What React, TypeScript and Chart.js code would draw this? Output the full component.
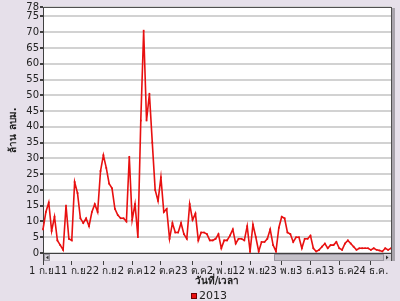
import React, { useEffect, useRef } from "react";
import { Chart, registerables } from "chart.js";

Chart.register(...registerables);

const months = ["ก.ย.", "ต.ค.", "พ.ย.", "ธ.ค."];
const monthDays = [30, 31, 30, 31];
const tickLabels = [
  "1 ก.ย.", "11 ก.ย.", "22 ก.ย.", "2 ต.ค.", "12 ต.ค.", "23 ต.ค.",
  "2 พ.ย.", "12 พ.ย.", "23 พ.ย.", "3 ธ.ค.", "13 ธ.ค.", "24 ธ.ค.",
];
const yTicks = [0, 5, 10, 15, 20, 25, 30, 35, 40, 45, 50, 55, 60, 65, 70, 75, 78];
const seriesName = "2013";
const values2013 = [
  7.5, 13, 16, 7, 11.5, 4, 2.5, 1, 15, 4.5,
  4, 22.5, 19, 11, 9.5, 11, 8.5, 13, 15.5, 13,
  26, 31, 27, 22, 20.5, 14, 12, 11, 11, 10,
  30.5, 10.5, 15.5, 5, 42, 70.5, 42, 50.5, 35, 20,
  16.5, 24, 13, 14, 4.5, 9.5, 6.5, 6.5, 9.5, 6,
  4.5, 15.5, 10.5, 12.5, 4, 6.5, 6.5, 6, 4, 4,
  4.5, 6, 1.5, 4, 4, 5.5, 7.5, 3, 4.5, 4.5,
  4, 8.5, 0.5, 9, 5, 0.5, 3.5, 3.5, 4.5, 7.5,
  2.5, 0.5, 8, 11.5, 11, 6.5, 6, 3.5, 5, 5,
  1.5, 4.5, 4.5, 5.5, 1.5, 0.5, 1, 2, 3, 1.5,
  2.5, 2.5, 3.5, 1.5, 1, 3, 4, 3, 2, 1,
  1.5, 1.5, 1.5, 1.5, 1, 1.5, 1, 0.8, 0.5, 1.5,
  1, 1.5,
];
const yTitle = "ล้าน ลบม.";
const xTitle = "วันที่/เวลา";

const categories: string[] = [];
months.forEach((m, i) => {
  for (let d = 1; d <= monthDays[i]; d++) categories.push(d + " " + m);
});

const FONT = "Tahoma, 'DejaVu Sans', Verdana, sans-serif";
const BG = "#e6e0ea";
const LINE = "rgb(232,16,16)";

const decor = {
  id: "decor",
  beforeDraw(chart: any) {
    const { ctx, chartArea: a, width, height } = chart;
    ctx.save();
    ctx.fillStyle = BG;
    ctx.fillRect(0, 0, width, height);
    ctx.fillStyle = "#ffffff";
    ctx.fillRect(a.left, a.top, a.right - a.left, a.bottom - a.top);
    ctx.restore();
  },
  afterDraw(chart: any) {
    const { ctx, chartArea: a } = chart;
    ctx.save();
    // top border
    ctx.strokeStyle = "#505050";
    ctx.lineWidth = 1;
    ctx.beginPath();
    ctx.moveTo(a.left, a.top + 0.5);
    ctx.lineTo(a.right, a.top + 0.5);
    ctx.stroke();
    // right frame
    ctx.beginPath();
    ctx.moveTo(a.right + 0.5, a.top);
    ctx.lineTo(a.right + 0.5, a.bottom + 8);
    ctx.stroke();
    ctx.fillStyle = "#a8a4ac";
    ctx.fillRect(a.right + 1, a.top + 1, 3, a.bottom - a.top + 7);
    // scrollbar track
    const sy = a.bottom + 1;
    const sh = 7;
    ctx.fillStyle = "#efebf1";
    ctx.fillRect(a.left + 1, sy, a.right - a.left - 1, sh);
    // left arrow
    ctx.fillStyle = "#d4d0d8";
    ctx.fillRect(a.left + 1, sy, 6, sh);
    ctx.strokeStyle = "#9a96a0";
    ctx.strokeRect(a.left + 1.5, sy + 0.5, 5, sh - 1);
    ctx.fillStyle = "#303030";
    ctx.beginPath();
    ctx.moveTo(a.left + 3, sy + 3.5);
    ctx.lineTo(a.left + 5.5, sy + 1.5);
    ctx.lineTo(a.left + 5.5, sy + 5.5);
    ctx.closePath();
    ctx.fill();
    // thumb
    const tx0 = 274;
    const tx1 = a.right - 7;
    ctx.fillStyle = "#c4c0c8";
    ctx.fillRect(tx0, sy, tx1 - tx0, sh);
    ctx.strokeStyle = "#9a96a0";
    ctx.strokeRect(tx0 + 0.5, sy + 0.5, tx1 - tx0 - 1, sh - 1);
    // right arrow
    ctx.fillStyle = "#d4d0d8";
    ctx.fillRect(tx1, sy, a.right - tx1, sh);
    ctx.fillStyle = "#303030";
    ctx.beginPath();
    ctx.moveTo(tx1 + 4.5, sy + 3.5);
    ctx.lineTo(tx1 + 2, sy + 1.5);
    ctx.lineTo(tx1 + 2, sy + 5.5);
    ctx.closePath();
    ctx.fill();
    // legend
    ctx.fillStyle = LINE;
    ctx.fillRect(191, 293, 6, 6);
    ctx.strokeStyle = "#700000";
    ctx.strokeRect(191.5, 293.5, 5, 5);
    ctx.fillStyle = "#222";
    ctx.font = "11px " + FONT;
    ctx.textBaseline = "middle";
    ctx.textAlign = "left";
    ctx.fillText(seriesName, 199, 296.5);
    ctx.restore();
  },
};

export default function App() {
  const ref = useRef<HTMLCanvasElement | null>(null);
  useEffect(() => {
    if (!ref.current) return;
    const tickSet = new Set(tickLabels);
    const chart = new Chart(ref.current, {
      type: "line",
      data: {
        labels: categories,
        datasets: [
          {
            label: seriesName,
            data: values2013,
            borderColor: LINE,
            backgroundColor: LINE,
            borderWidth: 1.6,
            pointStyle: "rect",
            pointRadius: 1.2,
            pointBorderWidth: 0,
            tension: 0,
          },
        ],
      },
      options: {
        responsive: false,
        animation: false,
        layout: { padding: { top: 7, right: 9, bottom: 10, left: 0 } },
        plugins: { legend: { display: false }, tooltip: { enabled: false } },
        scales: {
          x: {
            type: "category",
            offset: false,
            afterBuildTicks: (s: any) => {
              s.ticks = s.ticks.filter((t: any) => tickSet.has(categories[t.value]));
            },
            afterFit: (s: any) => {
              s.height = 38;
            },
            ticks: {
              autoSkip: false,
              maxRotation: 0,
              minRotation: 0,
              padding: 0,
              color: "#222",
              font: { family: FONT, size: 10 },
            },
            grid: {
              drawOnChartArea: false,
              drawTicks: true,
              tickLength: 12,
              tickColor: "#404040",
            },
            border: { display: true, color: "#404040" },
            title: {
              display: true,
              text: xTitle,
              color: "#222",
              font: { family: FONT, size: 10, weight: "bold" },
              padding: { top: 0, bottom: 4 },
            },
          },
          y: {
            min: 0,
            max: 78,
            afterBuildTicks: (s: any) => {
              s.ticks = yTicks.map((v) => ({ value: v }));
            },
            afterFit: (s: any) => {
              s.width = 43;
            },
            ticks: {
              padding: 1,
              color: "#222",
              font: { family: FONT, size: 10 },
            },
            grid: {
              color: "#d2d2d2",
              lineWidth: 2,
              tickLength: 3,
              tickColor: "#404040",
            },
            border: { display: true, color: "#404040" },
            title: {
              display: true,
              text: yTitle,
              color: "#222",
              font: { family: FONT, size: 10, weight: "bold" },
              padding: { top: 7, bottom: 0 },
            },
          },
        },
      },
      plugins: [decor],
    });
    return () => chart.destroy();
  }, []);
  return (
    <div style={{ position: "fixed", left: 0, top: 0, width: 400, height: 301 }}>
      <canvas ref={ref} width={400} height={301} style={{ display: "block" }} />
    </div>
  );
}
